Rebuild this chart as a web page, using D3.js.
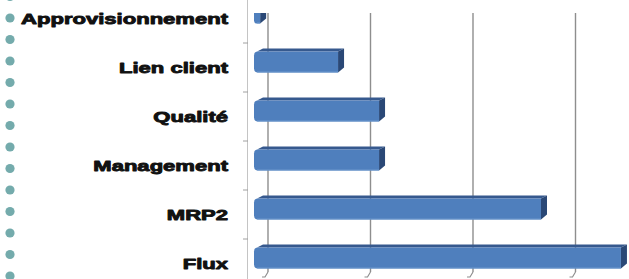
<!DOCTYPE html>
<html>
<head>
<meta charset="utf-8">
<script src="https://cdn.jsdelivr.net/npm/d3@7"></script>
<style>
  body { margin: 0; background: #fff; }
  svg { display: block; }
</style>
</head>
<body>
<svg width="629" height="279"></svg>
<script>
var categories = ["Approvisionnement", "Lien client", "Qualité", "Management", "MRP2", "Flux"];
var values = [0.3, 4.1, 6.1, 6.1, 14, 17.9];
var gridTicks = [0, 5, 10, 15];

var svg = d3.select("svg");

var x = d3.scaleLinear().domain([0, 20]).range([254, 664]);
var y = d3.scalePoint().domain(categories).range([13, 258]);

var barH = 21, depthX = 6, depthY = 3, wallDX = 14;
var plotTop = 13;
var labelScale = 1.47;

// plot area clip (the top bar is cut by it)
svg.append("defs").append("clipPath")
    .attr("id", "plot")
    .append("rect")
    .attr("x", 240).attr("y", plotTop)
    .attr("width", 400).attr("height", 279 - plotTop);

// teal bullet dots down the left edge (slide decoration)
svg.append("g")
    .selectAll("circle")
    .data(d3.range(-1, 13))
    .enter().append("circle")
    .attr("cx", 10)
    .attr("cy", function(d) { return 18 + 21.5 * d; })
    .attr("r", 4.6)
    .attr("fill", "#74abac");

// front category axis
svg.append("line")
    .attr("x1", 247.5).attr("x2", 247.5)
    .attr("y1", 0).attr("y2", 279)
    .attr("stroke", "#c4c4c4");

// category separator ticks
var step = y.step();
svg.append("g")
    .selectAll("line")
    .data(categories.slice(1))
    .enter().append("line")
    .attr("x1", 243).attr("x2", 248)
    .attr("y1", function(d) { return y(d) - step / 2 + 5.5; })
    .attr("y2", function(d) { return y(d) - step / 2 + 5.5; })
    .attr("stroke", "#a0a0a0");

// vertical gridlines on the back wall
var grid = svg.append("g");
grid.selectAll("line")
    .data(gridTicks)
    .enter().append("line")
    .attr("x1", function(d) { return x(d) + wallDX; })
    .attr("x2", function(d) { return x(d) + wallDX; })
    .attr("y1", plotTop).attr("y2", 272)
    .attr("stroke", "#8e8e8e")
    .attr("stroke-width", 1.4);
grid.selectAll("path")
    .data(gridTicks)
    .enter().append("path")
    .attr("d", function(d) {
        var gx = x(d) + wallDX;
        return "M" + gx + ",272 L" + (gx - 3) + ",277 L" + (gx - 6) + ",277";
    })
    .attr("fill", "none")
    .attr("stroke", "#8e8e8e")
    .attr("stroke-width", 1.2);

// 3D-ish bars
var bars = svg.append("g")
    .attr("clip-path", "url(#plot)")
    .selectAll("g")
    .data(categories)
    .enter().append("g");

bars.append("path") // top face
    .attr("d", function(d, i) {
        var x0 = x(0), x1 = x(values[i]), t = y(d) - barH / 2;
        return "M" + (x0 + 3) + "," + t + " L" + x1 + "," + t +
            " L" + (x1 + depthX) + "," + (t - depthY) +
            " L" + (x0 + 3 + depthX) + "," + (t - depthY) + " Z";
    })
    .attr("fill", "#36598e");

bars.append("path") // right side
    .attr("d", function(d, i) {
        var x1 = x(values[i]), t = y(d) - barH / 2;
        return "M" + x1 + "," + t + " L" + (x1 + depthX) + "," + (t - depthY) +
            " L" + (x1 + depthX) + "," + (t + barH - depthY - 2) +
            " L" + x1 + "," + (t + barH) + " Z";
    })
    .attr("fill", "#2a4876");

bars.append("path") // front face
    .attr("d", function(d, i) {
        var x0 = x(0), x1 = x(values[i]), t = y(d) - barH / 2, b = t + barH;
        var r = Math.min(4, (x1 - x0) / 2);
        return "M" + (x0 + r) + "," + t + " L" + x1 + "," + t + " L" + x1 + "," + b +
            " L" + (x0 + r) + "," + b + " Q" + x0 + "," + b + " " + x0 + "," + (b - r) +
            " L" + x0 + "," + (t + r) + " Q" + x0 + "," + t + " " + (x0 + r) + "," + t + " Z";
    })
    .attr("fill", "#4f7fbd");

bars.append("line") // lighter bottom edge
    .attr("x1", function() { return x(0) + 3; })
    .attr("x2", function(d, i) { return x(values[i]); })
    .attr("y1", function(d) { return y(d) + barH / 2 - 0.5; })
    .attr("y2", function(d) { return y(d) + barH / 2 - 0.5; })
    .attr("stroke", "#6d98cc")
    .attr("stroke-width", 1);

// category labels (wide, heavy)
svg.append("g")
    .attr("transform", "scale(" + labelScale + ",1)")
    .selectAll("text")
    .data(categories)
    .enter().append("text")
    .attr("x", 228 / labelScale)
    .attr("y", function(d) { return y(d) + 11.5; })
    .attr("text-anchor", "end")
    .attr("font-family", "'Liberation Sans', Arial, sans-serif")
    .attr("font-weight", "bold")
    .attr("font-size", 15)
    .attr("fill", "#111")
    .attr("stroke", "#111")
    .attr("stroke-width", 0.9)
    .attr("stroke-linejoin", "round")
    .text(function(d) { return d; });
</script>
</body>
</html>
